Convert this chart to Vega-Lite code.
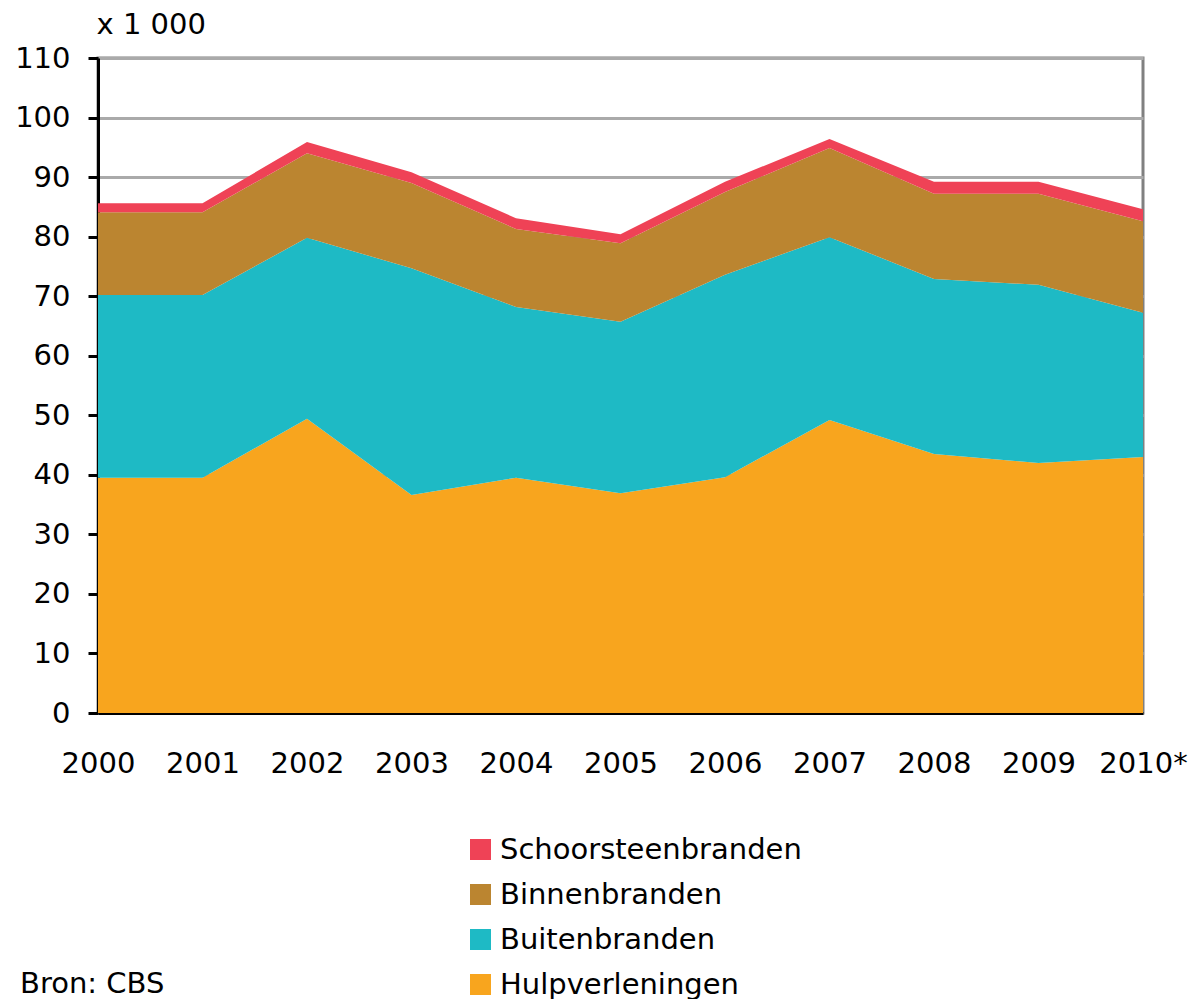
{
  "$schema": "https://vega.github.io/schema/vega-lite/v6.json",
  "autosize": "none",
  "width": 1045,
  "height": 655,
  "padding": {"left": 98, "top": 58, "right": 46, "bottom": 286},
  "background": "white",
  "config": {
    "font": "DejaVu Sans",
    "view": {"stroke": "#808080", "strokeWidth": 3}
  },
  "title": {
    "text": "Bron: CBS",
    "orient": "bottom",
    "anchor": "start",
    "frame": "group",
    "offset": -30,
    "dx": -78,
    "fontSize": 29,
    "fontWeight": "normal",
    "font": "DejaVu Sans",
    "color": "black"
  },
  "data": {
    "values": [
      {"year": 2000, "category": "Hulpverleningen", "rank": 1, "value": 39.5},
      {"year": 2001, "category": "Hulpverleningen", "rank": 1, "value": 39.5},
      {"year": 2002, "category": "Hulpverleningen", "rank": 1, "value": 49.4},
      {"year": 2003, "category": "Hulpverleningen", "rank": 1, "value": 36.6},
      {"year": 2004, "category": "Hulpverleningen", "rank": 1, "value": 39.5},
      {"year": 2005, "category": "Hulpverleningen", "rank": 1, "value": 36.9},
      {"year": 2006, "category": "Hulpverleningen", "rank": 1, "value": 39.6},
      {"year": 2007, "category": "Hulpverleningen", "rank": 1, "value": 49.2},
      {"year": 2008, "category": "Hulpverleningen", "rank": 1, "value": 43.5},
      {"year": 2009, "category": "Hulpverleningen", "rank": 1, "value": 42.0},
      {"year": 2010, "category": "Hulpverleningen", "rank": 1, "value": 43.0},
      {"year": 2000, "category": "Buitenbranden", "rank": 2, "value": 30.7},
      {"year": 2001, "category": "Buitenbranden", "rank": 2, "value": 30.7},
      {"year": 2002, "category": "Buitenbranden", "rank": 2, "value": 30.4},
      {"year": 2003, "category": "Buitenbranden", "rank": 2, "value": 38.1},
      {"year": 2004, "category": "Buitenbranden", "rank": 2, "value": 28.7},
      {"year": 2005, "category": "Buitenbranden", "rank": 2, "value": 28.8},
      {"year": 2006, "category": "Buitenbranden", "rank": 2, "value": 34.0},
      {"year": 2007, "category": "Buitenbranden", "rank": 2, "value": 30.7},
      {"year": 2008, "category": "Buitenbranden", "rank": 2, "value": 29.4},
      {"year": 2009, "category": "Buitenbranden", "rank": 2, "value": 29.9},
      {"year": 2010, "category": "Buitenbranden", "rank": 2, "value": 24.2},
      {"year": 2000, "category": "Binnenbranden", "rank": 3, "value": 13.9},
      {"year": 2001, "category": "Binnenbranden", "rank": 3, "value": 13.9},
      {"year": 2002, "category": "Binnenbranden", "rank": 3, "value": 14.2},
      {"year": 2003, "category": "Binnenbranden", "rank": 3, "value": 14.3},
      {"year": 2004, "category": "Binnenbranden", "rank": 3, "value": 13.1},
      {"year": 2005, "category": "Binnenbranden", "rank": 3, "value": 13.2},
      {"year": 2006, "category": "Binnenbranden", "rank": 3, "value": 13.9},
      {"year": 2007, "category": "Binnenbranden", "rank": 3, "value": 15.0},
      {"year": 2008, "category": "Binnenbranden", "rank": 3, "value": 14.3},
      {"year": 2009, "category": "Binnenbranden", "rank": 3, "value": 15.3},
      {"year": 2010, "category": "Binnenbranden", "rank": 3, "value": 15.4},
      {"year": 2000, "category": "Schoorsteenbranden", "rank": 4, "value": 1.5},
      {"year": 2001, "category": "Schoorsteenbranden", "rank": 4, "value": 1.5},
      {"year": 2002, "category": "Schoorsteenbranden", "rank": 4, "value": 1.9},
      {"year": 2003, "category": "Schoorsteenbranden", "rank": 4, "value": 1.8},
      {"year": 2004, "category": "Schoorsteenbranden", "rank": 4, "value": 1.8},
      {"year": 2005, "category": "Schoorsteenbranden", "rank": 4, "value": 1.5},
      {"year": 2006, "category": "Schoorsteenbranden", "rank": 4, "value": 1.7},
      {"year": 2007, "category": "Schoorsteenbranden", "rank": 4, "value": 1.5},
      {"year": 2008, "category": "Schoorsteenbranden", "rank": 4, "value": 2.0},
      {"year": 2009, "category": "Schoorsteenbranden", "rank": 4, "value": 2.0},
      {"year": 2010, "category": "Schoorsteenbranden", "rank": 4, "value": 2.0}
    ]
  },
  "mark": {"type": "area", "interpolate": "linear"},
  "encoding": {
    "x": {
      "field": "year",
      "type": "quantitative",
      "scale": {"domain": [2000, 2010], "nice": false, "zero": false},
      "axis": {
        "title": null,
        "values": [2000, 2001, 2002, 2003, 2004, 2005, 2006, 2007, 2008, 2009, 2010],
        "format": "d",
        "labelExpr": "datum.value == 2010 ? '2010*' : datum.label",
        "labelFlush": false,
        "labelOverlap": false,
        "grid": false,
        "ticks": false,
        "domainColor": "black",
        "domainWidth": 3,
        "labelFont": "DejaVu Sans",
        "labelFontSize": 29,
        "labelColor": "black",
        "labelPadding": 36
      }
    },
    "y": {
      "field": "value",
      "type": "quantitative",
      "stack": "zero",
      "scale": {"domain": [0, 110], "nice": false},
      "axis": {
        "title": "x 1 000",
        "titleAngle": 0,
        "titleAlign": "left",
        "titleBaseline": "alphabetic",
        "titleX": -2,
        "titleY": -25,
        "titleFont": "DejaVu Sans",
        "titleFontSize": 29,
        "titleFontWeight": "normal",
        "titleColor": "black",
        "values": [0, 10, 20, 30, 40, 50, 60, 70, 80, 90, 100, 110],
        "grid": true,
        "gridColor": "#aaaaaa",
        "gridWidth": 3,
        "gridOpacity": 1,
        "tickSize": 10,
        "tickWidth": 3,
        "tickColor": "black",
        "domainColor": "black",
        "domainWidth": 3,
        "labelFont": "DejaVu Sans",
        "labelFontSize": 29,
        "labelColor": "black",
        "labelPadding": 18
      }
    },
    "color": {
      "field": "category",
      "type": "nominal",
      "scale": {
        "domain": ["Schoorsteenbranden", "Binnenbranden", "Buitenbranden", "Hulpverleningen"],
        "range": ["#EF4256", "#BB8530", "#1EBAC5", "#F8A51E"]
      },
      "legend": {
        "title": null,
        "orient": "none",
        "legendX": 368,
        "legendY": 777,
        "padding": 0,
        "symbolType": "square",
        "symbolSize": 441,
        "symbolStrokeWidth": 0,
        "symbolOpacity": 1,
        "labelFont": "DejaVu Sans",
        "labelFontSize": 29,
        "labelColor": "black",
        "labelOffset": 5,
        "rowPadding": 15,
        "labelLimit": 600
      }
    },
    "order": {"field": "rank", "type": "quantitative"}
  }
}
